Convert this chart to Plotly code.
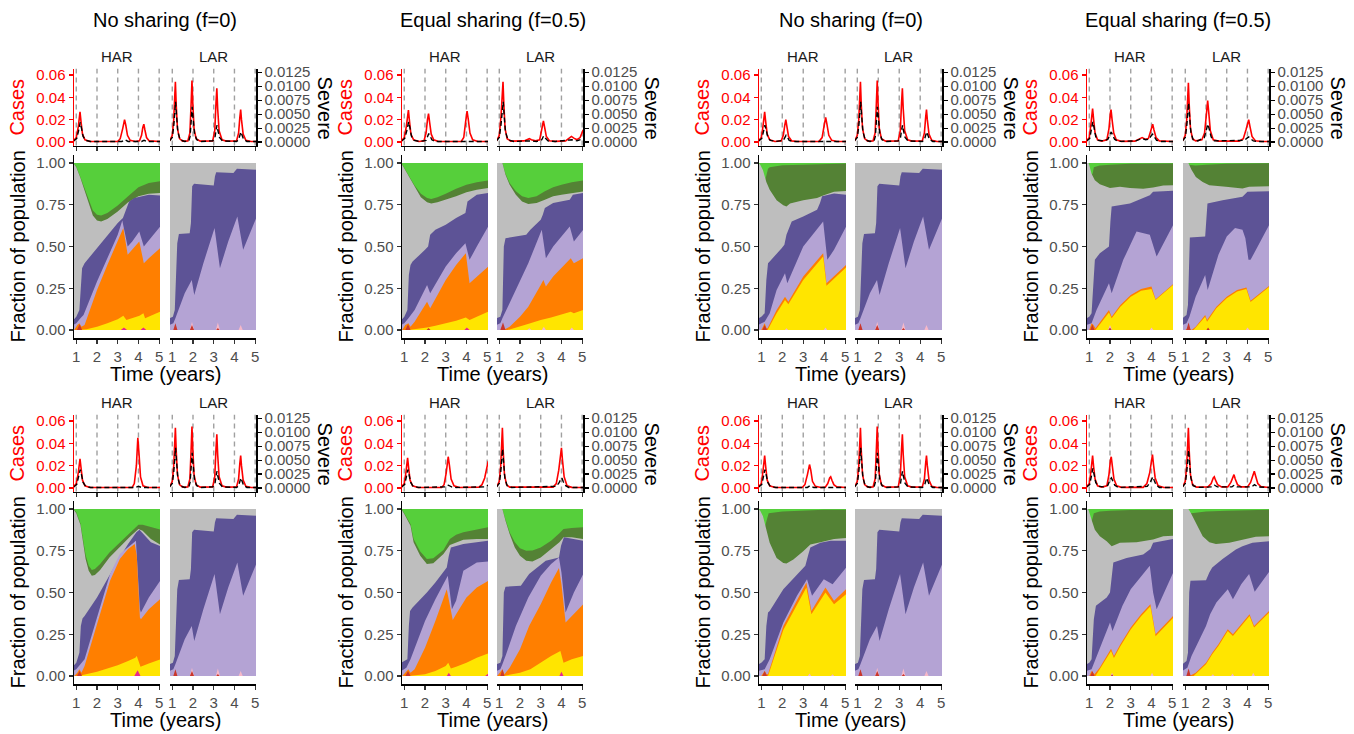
import plotly.graph_objects as go

W, H = 1354, 734
FONT = "Liberation Sans, Arial, sans-serif"

# ------------------------------------------------------------------ data
YEARS = [1, 2, 3, 4, 5]
CASE_TICKS = [0.0, 0.02, 0.04, 0.06]
SEVERE_TICKS = [0.0, 0.0025, 0.005, 0.0075, 0.01, 0.0125]
FRAC_TICKS = [0.0, 0.25, 0.5, 0.75, 1.0]
TITLES = ["No sharing (f=0)", "Equal sharing (f=0.5)", "No sharing (f=0)", "Equal sharing (f=0.5)"]
FACETS = ["HAR", "LAR"]

# cumulative top edge of each stacked compartment, (time, fraction)
TOP_FULL = [(0.85, 1.0), (5.05, 1.0)]

# ---- shared LAR panel, no sharing (identical in all four no-sharing groups)
NS_LAR_gray = [(0.85, 1.0), (5.05, 1.0)]
NS_LAR_dpurple = [(0.85, 0.07), (1.03, 0.08), (1.12, 0.12), (1.18, 0.30), (1.24, 0.52), (1.32, 0.575), (1.84, 0.58), (1.9, 0.64), (1.96, 0.86), (2.05, 0.875), (2.5, 0.87), (3.0, 0.865), (3.06, 0.92), (3.12, 0.945), (3.95, 0.94), (4.05, 0.955), (4.12, 0.966), (5.05, 0.96)]
NS_LAR_lpurple = [(0.85, 0.03), (1.05, 0.04), (1.15, 0.07), (1.3, 0.12), (1.6, 0.22), (1.94, 0.30), (2.06, 0.21), (2.5, 0.40), (3.04, 0.61), (3.3, 0.37), (3.7, 0.53), (4.14, 0.68), (4.42, 0.48), (5.05, 0.67)]
NS_LAR_pink = [(1.85, 0.0), (1.95, 0.05), (2.05, 0.0), (3.1, 0.0), (3.2, 0.045), (3.3, 0.0), (4.2, 0.0), (4.3, 0.03), (4.4, 0.0)]
NS_LAR_red = [(1.05, 0.0), (1.15, 0.04), (1.25, 0.0), (1.85, 0.0), (1.95, 0.03), (2.05, 0.0), (3.12, 0.0), (3.2, 0.012), (3.28, 0.0)]
NS_LAR_cases = [(0.87, 0.001), (1.0, 0.006), (1.07, 0.02), (1.12, 0.045), (1.15, 0.054), (1.19, 0.033), (1.25, 0.012), (1.35, 0.003), (1.5, 0.0008), (1.75, 0.001), (1.85, 0.008), (1.91, 0.035), (1.95, 0.055), (1.99, 0.035), (2.05, 0.012), (2.15, 0.003), (2.35, 0.0008), (2.95, 0.001), (3.05, 0.01), (3.11, 0.035), (3.15, 0.048), (3.19, 0.03), (3.26, 0.01), (3.4, 0.002), (3.6, 0.0008), (4.1, 0.001), (4.2, 0.008), (4.26, 0.022), (4.3, 0.029), (4.34, 0.02), (4.42, 0.007), (4.55, 0.0015), (4.8, 0.0005), (5.05, 0.0005)]
NS_LAR_severe = [(0.87, 0.0002), (1.0, 0.0008), (1.07, 0.0028), (1.12, 0.006), (1.16, 0.0072), (1.2, 0.005), (1.27, 0.0018), (1.38, 0.0004), (1.6, 0.0001), (1.8, 0.0002), (1.86, 0.001), (1.92, 0.0042), (1.96, 0.0063), (2.0, 0.0045), (2.07, 0.0016), (2.18, 0.0004), (2.4, 0.0001), (2.95, 0.0002), (3.06, 0.0008), (3.12, 0.0023), (3.16, 0.003), (3.2, 0.0021), (3.28, 0.0008), (3.42, 0.0002), (4.1, 0.0001), (4.2, 0.0004), (4.26, 0.0013), (4.31, 0.0018), (4.36, 0.0013), (4.44, 0.0005), (4.6, 0.0001), (5.05, 0.0001)]

# ---- A1: No sharing, row 1, HAR
A1_HAR_dgreen = [(0.85, 1.0), (1.0, 0.978), (1.2, 0.915), (1.4, 0.845), (1.6, 0.775), (1.8, 0.715), (2.0, 0.69), (2.2, 0.685), (2.5, 0.70), (3.0, 0.745), (3.5, 0.80), (4.0, 0.855), (4.5, 0.88), (5.05, 0.89)]
A1_HAR_gray = [(0.85, 1.0), (1.0, 0.975), (1.2, 0.91), (1.4, 0.83), (1.6, 0.75), (1.8, 0.685), (2.0, 0.655), (2.2, 0.65), (2.5, 0.665), (3.0, 0.71), (3.5, 0.765), (4.0, 0.80), (4.5, 0.815), (5.05, 0.82)]
A1_HAR_dpurple = [(0.85, 0.06), (1.0, 0.08), (1.15, 0.12), (1.22, 0.30), (1.28, 0.37), (1.4, 0.40), (2.0, 0.49), (2.5, 0.57), (3.0, 0.64), (3.25, 0.67), (3.4, 0.72), (3.55, 0.77), (3.8, 0.79), (4.1, 0.80), (4.5, 0.81), (5.05, 0.805)]
A1_HAR_lpurple = [(0.85, 0.03), (1.0, 0.04), (1.2, 0.07), (1.35, 0.09), (2.0, 0.29), (2.5, 0.43), (3.0, 0.57), (3.22, 0.655), (3.48, 0.50), (3.7, 0.53), (4.04, 0.59), (4.26, 0.50), (4.45, 0.53), (5.05, 0.62)]
A1_HAR_orange = [(0.9, 0.0), (1.05, 0.03), (1.15, 0.04), (1.25, 0.02), (1.4, 0.03), (2.0, 0.24), (2.5, 0.39), (3.0, 0.53), (3.27, 0.61), (3.48, 0.45), (3.7, 0.48), (4.04, 0.53), (4.26, 0.40), (4.5, 0.43), (5.05, 0.49)]
A1_HAR_yellow = [(1.1, 0.0), (1.5, 0.005), (2.0, 0.02), (2.5, 0.04), (3.0, 0.065), (3.27, 0.085), (3.42, 0.06), (3.7, 0.07), (4.05, 0.085), (4.24, 0.10), (4.32, 0.07), (5.05, 0.11)]
A1_HAR_magenta = [(3.15, 0.0), (3.3, 0.015), (3.45, 0.0), (4.1, 0.0), (4.24, 0.015), (4.38, 0.0)]
A1_HAR_red = [(1.03, 0.0), (1.16, 0.035), (1.28, 0.0)]
A1_HAR_cases = [(0.87, 0.001), (1.0, 0.004), (1.1, 0.014), (1.18, 0.027), (1.23, 0.018), (1.3, 0.007), (1.42, 0.002), (1.65, 0.0005), (3.0, 0.0005), (3.12, 0.003), (3.24, 0.012), (3.33, 0.02), (3.39, 0.015), (3.47, 0.006), (3.6, 0.0015), (3.85, 0.0005), (4.05, 0.001), (4.15, 0.006), (4.21, 0.013), (4.26, 0.016), (4.31, 0.011), (4.39, 0.004), (4.52, 0.001), (5.05, 0.0005)]
A1_HAR_severe = [(0.87, 0.0002), (1.02, 0.0006), (1.11, 0.002), (1.19, 0.0035), (1.25, 0.0025), (1.33, 0.001), (1.45, 0.0003), (1.7, 0.0001), (3.2, 0.0001), (3.35, 0.0004), (3.5, 0.0001), (4.15, 0.0001), (4.27, 0.0003), (4.4, 0.0001), (5.05, 0.0001)]

# ---- A2: No sharing, row 2, HAR
A2_HAR_dgreen = [(0.85, 1.0), (1.0, 0.98), (1.2, 0.915), (1.45, 0.725), (1.6, 0.66), (1.75, 0.635), (1.9, 0.64), (2.15, 0.67), (2.6, 0.74), (3.1, 0.80), (3.6, 0.86), (4.0, 0.905), (4.2, 0.905), (4.6, 0.89), (5.05, 0.876)]
A2_HAR_gray = [(0.85, 1.0), (1.0, 0.975), (1.2, 0.905), (1.45, 0.70), (1.6, 0.63), (1.75, 0.60), (1.9, 0.605), (2.15, 0.635), (2.6, 0.71), (3.1, 0.775), (3.6, 0.835), (4.0, 0.88), (4.2, 0.87), (4.6, 0.82), (5.05, 0.787)]
A2_HAR_dpurple = [(0.85, 0.06), (1.0, 0.08), (1.15, 0.14), (1.22, 0.30), (1.3, 0.345), (1.4, 0.36), (2.0, 0.47), (2.5, 0.58), (3.0, 0.69), (3.5, 0.79), (3.9, 0.86), (4.05, 0.875), (4.3, 0.84), (4.6, 0.80), (5.05, 0.778)]
A2_HAR_lpurple = [(0.85, 0.03), (1.0, 0.04), (1.2, 0.07), (1.4, 0.10), (2.0, 0.35), (2.63, 0.61), (3.1, 0.73), (3.75, 0.80), (3.88, 0.81), (4.07, 0.40), (4.12, 0.38), (4.5, 0.47), (5.05, 0.57)]
A2_HAR_orange = [(0.9, 0.0), (1.05, 0.02), (1.15, 0.04), (1.25, 0.02), (1.4, 0.06), (1.75, 0.20), (2.0, 0.31), (2.63, 0.57), (3.1, 0.70), (3.5, 0.76), (3.82, 0.79), (3.92, 0.72), (4.07, 0.35), (4.12, 0.34), (4.5, 0.40), (5.05, 0.46)]
A2_HAR_yellow = [(1.1, 0.0), (1.5, 0.01), (2.0, 0.025), (2.5, 0.045), (3.0, 0.065), (3.5, 0.09), (3.85, 0.11), (3.92, 0.12), (4.1, 0.055), (4.5, 0.075), (5.05, 0.10)]
A2_HAR_magenta = [(3.8, 0.0), (3.96, 0.035), (4.1, 0.0)]
A2_HAR_red = [(1.03, 0.0), (1.16, 0.03), (1.28, 0.0)]
A2_HAR_cases = [(0.87, 0.001), (1.0, 0.004), (1.1, 0.014), (1.18, 0.026), (1.23, 0.018), (1.3, 0.007), (1.42, 0.002), (1.65, 0.0005), (3.7, 0.0005), (3.8, 0.004), (3.9, 0.02), (3.97, 0.045), (4.03, 0.03), (4.1, 0.01), (4.22, 0.002), (4.45, 0.0005), (5.05, 0.0005)]
A2_HAR_severe = [(0.87, 0.0002), (1.02, 0.0006), (1.11, 0.002), (1.19, 0.0033), (1.25, 0.0024), (1.33, 0.001), (1.45, 0.0003), (1.7, 0.0001), (3.85, 0.0001), (4.0, 0.0003), (4.15, 0.0001), (5.05, 0.0001)]

# ---- B1: Equal sharing, row 1
B1_HAR_dgreen = [(0.85, 1.0), (1.2, 0.93), (1.5, 0.865), (1.8, 0.815), (2.1, 0.79), (2.3, 0.785), (2.6, 0.795), (3.0, 0.815), (3.5, 0.845), (4.0, 0.87), (4.5, 0.885), (5.05, 0.895)]
B1_HAR_gray = [(0.85, 1.0), (1.2, 0.925), (1.5, 0.855), (1.8, 0.795), (2.1, 0.765), (2.3, 0.757), (2.6, 0.765), (3.0, 0.78), (3.5, 0.80), (4.0, 0.825), (4.5, 0.84), (5.05, 0.85)]
B1_HAR_dpurple = [(0.85, 0.06), (1.0, 0.08), (1.15, 0.12), (1.22, 0.33), (1.3, 0.39), (1.4, 0.41), (2.0, 0.48), (2.15, 0.50), (2.25, 0.57), (2.5, 0.60), (3.0, 0.63), (3.5, 0.67), (3.95, 0.70), (4.05, 0.77), (4.5, 0.81), (5.05, 0.82)]
B1_HAR_lpurple = [(0.85, 0.03), (1.0, 0.04), (1.2, 0.07), (1.5, 0.12), (2.1, 0.27), (2.25, 0.22), (3.0, 0.38), (3.5, 0.46), (3.95, 0.52), (4.15, 0.42), (4.5, 0.50), (5.05, 0.62)]
B1_HAR_orange = [(0.9, 0.0), (1.05, 0.03), (1.2, 0.04), (1.3, 0.02), (1.5, 0.05), (2.1, 0.17), (2.25, 0.13), (3.0, 0.30), (3.5, 0.39), (3.97, 0.46), (4.15, 0.28), (4.5, 0.32), (5.05, 0.38)]
B1_HAR_yellow = [(1.2, 0.0), (1.6, 0.005), (2.1, 0.015), (2.5, 0.025), (3.0, 0.04), (3.5, 0.055), (3.97, 0.075), (4.15, 0.06), (4.5, 0.08), (5.05, 0.11)]
B1_HAR_magenta = [(3.9, 0.0), (4.02, 0.015), (4.15, 0.0)]
B1_HAR_red = [(1.05, 0.0), (1.18, 0.035), (1.3, 0.0), (2.08, 0.0), (2.17, 0.012), (2.27, 0.0)]
B1_HAR_cases = [(0.87, 0.001), (1.0, 0.004), (1.1, 0.014), (1.2, 0.0285), (1.25, 0.019), (1.32, 0.007), (1.45, 0.002), (1.7, 0.0005), (1.95, 0.001), (2.05, 0.008), (2.12, 0.02), (2.17, 0.0255), (2.22, 0.018), (2.3, 0.007), (2.42, 0.002), (2.65, 0.0005), (3.75, 0.0005), (3.87, 0.004), (3.96, 0.018), (4.03, 0.0276), (4.09, 0.02), (4.17, 0.008), (4.3, 0.002), (4.55, 0.0005), (5.05, 0.0005)]
B1_HAR_severe = [(0.87, 0.0002), (1.02, 0.0006), (1.12, 0.002), (1.21, 0.0036), (1.27, 0.0026), (1.35, 0.001), (1.48, 0.0003), (1.75, 0.0001), (2.05, 0.0003), (2.13, 0.0011), (2.18, 0.0015), (2.24, 0.0011), (2.33, 0.0004), (2.5, 0.0001), (3.9, 0.0001), (4.04, 0.00015), (4.2, 0.0001), (5.05, 0.0001)]
B1_LAR_dgreen = [(0.85, 1.0), (1.15, 1.0), (1.3, 0.935), (1.5, 0.88), (1.8, 0.83), (2.1, 0.80), (2.4, 0.79), (2.8, 0.80), (3.2, 0.83), (3.6, 0.855), (4.0, 0.87), (4.5, 0.885), (5.05, 0.895)]
B1_LAR_gray = [(0.85, 1.0), (1.15, 1.0), (1.3, 0.93), (1.5, 0.87), (1.8, 0.81), (2.1, 0.77), (2.4, 0.755), (2.8, 0.76), (3.2, 0.78), (3.6, 0.80), (4.0, 0.81), (4.5, 0.82), (5.05, 0.83)]
B1_LAR_dpurple = [(0.85, 0.07), (1.05, 0.08), (1.15, 0.12), (1.22, 0.50), (1.3, 0.55), (2.3, 0.57), (2.5, 0.60), (3.0, 0.66), (3.1, 0.69), (3.2, 0.73), (3.6, 0.76), (4.4, 0.78), (4.55, 0.81), (5.05, 0.82)]
B1_LAR_lpurple = [(0.85, 0.03), (1.05, 0.04), (1.15, 0.07), (1.3, 0.11), (1.8, 0.25), (2.4, 0.40), (3.05, 0.60), (3.25, 0.43), (3.6, 0.50), (4.4, 0.62), (4.6, 0.53), (5.05, 0.60)]
B1_LAR_orange = [(1.2, 0.0), (1.5, 0.02), (2.0, 0.08), (2.4, 0.14), (3.0, 0.27), (3.13, 0.30), (3.25, 0.26), (3.6, 0.32), (4.45, 0.43), (4.6, 0.40), (5.05, 0.43)]
B1_LAR_yellow = [(1.4, 0.0), (2.0, 0.02), (2.5, 0.04), (3.0, 0.06), (3.5, 0.075), (4.45, 0.11), (4.6, 0.10), (5.05, 0.12)]
B1_LAR_pink = [(2.35, 0.0), (2.45, 0.01), (2.55, 0.0), (3.05, 0.0), (3.15, 0.02), (3.25, 0.0), (4.4, 0.0), (4.5, 0.015), (4.6, 0.0)]
B1_LAR_red = [(1.05, 0.0), (1.18, 0.045), (1.3, 0.0)]
B1_LAR_cases = [(0.87, 0.001), (1.0, 0.006), (1.08, 0.022), (1.13, 0.045), (1.18, 0.054), (1.22, 0.034), (1.28, 0.012), (1.38, 0.003), (1.55, 0.0008), (2.2, 0.001), (2.35, 0.0025), (2.45, 0.003), (2.55, 0.002), (2.75, 0.001), (2.95, 0.002), (3.05, 0.01), (3.13, 0.019), (3.19, 0.013), (3.27, 0.005), (3.42, 0.0012), (3.7, 0.0006), (4.2, 0.001), (4.38, 0.0035), (4.48, 0.005), (4.6, 0.0035), (4.75, 0.002), (4.9, 0.004), (5.05, 0.011)]
B1_LAR_severe = [(0.87, 0.0002), (1.0, 0.0008), (1.08, 0.003), (1.14, 0.006), (1.19, 0.0072), (1.23, 0.005), (1.3, 0.0018), (1.42, 0.0004), (1.7, 0.0001), (2.45, 0.0002), (2.8, 0.0001), (3.05, 0.0004), (3.14, 0.0011), (3.22, 0.0007), (3.35, 0.0002), (3.7, 0.0001), (4.5, 0.0004), (4.75, 0.0002), (5.05, 0.0006)]

# ---- B2: Equal sharing, row 2
B2_HAR_dgreen = [(0.85, 1.0), (1.0, 0.975), (1.3, 0.91), (1.45, 0.82), (1.77, 0.745), (2.09, 0.70), (2.4, 0.705), (2.89, 0.755), (3.2, 0.82), (3.5, 0.845), (3.85, 0.86), (4.5, 0.876), (5.05, 0.89)]
B2_HAR_gray = [(0.85, 1.0), (1.0, 0.97), (1.3, 0.90), (1.45, 0.80), (1.77, 0.72), (2.09, 0.67), (2.4, 0.675), (2.89, 0.73), (3.2, 0.785), (3.5, 0.80), (3.85, 0.815), (4.5, 0.82), (5.05, 0.82)]
B2_HAR_dpurple = [(0.85, 0.08), (1.15, 0.10), (1.22, 0.30), (1.28, 0.39), (1.4, 0.41), (2.09, 0.50), (2.5, 0.56), (3.05, 0.65), (3.15, 0.72), (3.25, 0.77), (3.85, 0.79), (4.5, 0.80), (5.05, 0.81)]
B2_HAR_lpurple = [(0.85, 0.03), (1.1, 0.05), (1.3, 0.10), (2.0, 0.33), (2.5, 0.46), (3.0, 0.58), (3.1, 0.60), (3.3, 0.40), (3.5, 0.45), (3.85, 0.63), (4.5, 0.68), (5.05, 0.685)]
B2_HAR_orange = [(0.9, 0.0), (1.1, 0.03), (1.2, 0.04), (1.3, 0.02), (1.5, 0.04), (2.0, 0.17), (2.5, 0.33), (3.05, 0.52), (3.34, 0.335), (3.5, 0.37), (4.0, 0.47), (4.5, 0.53), (5.05, 0.57)]
B2_HAR_yellow = [(1.2, 0.0), (2.0, 0.01), (2.5, 0.03), (3.0, 0.06), (3.12, 0.08), (3.25, 0.045), (3.5, 0.055), (4.0, 0.08), (4.5, 0.11), (5.05, 0.135)]
B2_HAR_magenta = [(3.05, 0.0), (3.15, 0.02), (3.25, 0.0), (4.9, 0.0), (5.05, 0.015)]
B2_HAR_red = [(1.05, 0.0), (1.18, 0.03), (1.3, 0.0)]
B2_HAR_cases = [(0.87, 0.001), (1.0, 0.004), (1.08, 0.014), (1.16, 0.027), (1.21, 0.018), (1.28, 0.007), (1.4, 0.002), (1.65, 0.0005), (2.8, 0.0005), (2.92, 0.003), (3.02, 0.013), (3.12, 0.028), (3.18, 0.02), (3.26, 0.008), (3.4, 0.002), (3.65, 0.0005), (4.6, 0.0008), (4.75, 0.003), (4.88, 0.009), (5.05, 0.024)]
B2_HAR_severe = [(0.87, 0.0002), (1.02, 0.0006), (1.1, 0.002), (1.17, 0.0033), (1.23, 0.0024), (1.31, 0.001), (1.43, 0.0003), (1.7, 0.0001), (3.0, 0.0002), (3.13, 0.0005), (3.28, 0.0002), (3.5, 0.0001), (4.9, 0.0002), (5.05, 0.0005)]
B2_LAR_dgreen = [(0.85, 1.0), (1.15, 1.0), (1.3, 0.935), (1.5, 0.86), (1.75, 0.80), (2.0, 0.765), (2.3, 0.75), (2.6, 0.752), (3.0, 0.77), (3.5, 0.81), (3.9, 0.855), (4.1, 0.88), (4.5, 0.886), (5.05, 0.89)]
B2_LAR_gray = [(0.85, 1.0), (1.15, 1.0), (1.3, 0.93), (1.5, 0.85), (1.75, 0.77), (2.0, 0.72), (2.3, 0.69), (2.6, 0.685), (3.0, 0.71), (3.5, 0.76), (3.9, 0.80), (4.1, 0.83), (4.5, 0.83), (5.05, 0.82)]
B2_LAR_dpurple = [(0.85, 0.07), (1.05, 0.08), (1.15, 0.12), (1.22, 0.50), (1.3, 0.535), (2.04, 0.54), (2.44, 0.61), (3.24, 0.69), (3.88, 0.71), (3.98, 0.78), (4.12, 0.83), (4.6, 0.82), (5.05, 0.81)]
B2_LAR_lpurple = [(0.85, 0.03), (1.05, 0.04), (1.15, 0.07), (1.3, 0.12), (1.8, 0.30), (2.4, 0.47), (3.0, 0.60), (3.5, 0.67), (3.88, 0.71), (4.0, 0.62), (4.2, 0.38), (4.6, 0.50), (5.05, 0.61)]
B2_LAR_orange = [(0.9, 0.0), (1.1, 0.03), (1.15, 0.04), (1.25, 0.01), (1.5, 0.05), (2.0, 0.16), (2.44, 0.30), (3.0, 0.43), (3.5, 0.56), (3.88, 0.647), (4.0, 0.55), (4.2, 0.32), (4.6, 0.37), (5.05, 0.43)]
B2_LAR_yellow = [(1.2, 0.0), (2.0, 0.02), (2.5, 0.04), (3.0, 0.08), (3.5, 0.12), (3.95, 0.15), (4.1, 0.08), (4.5, 0.10), (5.05, 0.12)]
B2_LAR_magenta = [(3.9, 0.0), (4.0, 0.025), (4.1, 0.0)]
B2_LAR_red = [(1.05, 0.0), (1.15, 0.04), (1.25, 0.0)]
B2_LAR_cases = [(0.87, 0.001), (1.0, 0.006), (1.07, 0.02), (1.12, 0.045), (1.15, 0.054), (1.19, 0.033), (1.25, 0.012), (1.35, 0.003), (1.5, 0.0008), (3.6, 0.0008), (3.75, 0.004), (3.87, 0.016), (3.95, 0.033), (4.0, 0.036), (4.05, 0.025), (4.13, 0.01), (4.27, 0.002), (4.5, 0.0006), (5.05, 0.0005)]
B2_LAR_severe = [(0.87, 0.0002), (1.0, 0.0008), (1.07, 0.0028), (1.12, 0.006), (1.16, 0.007), (1.2, 0.005), (1.27, 0.0018), (1.38, 0.0004), (1.6, 0.0001), (3.75, 0.0003), (3.88, 0.0009), (3.97, 0.0016), (4.02, 0.0018), (4.08, 0.0012), (4.17, 0.0005), (4.35, 0.0001), (5.05, 0.0001)]

# ---- C1: No sharing, row 1, HAR
C1_HAR_dgreen = [(0.85, 0.9), (1.15, 0.88), (1.25, 0.93), (1.32, 0.966), (1.4, 0.975), (2.0, 0.986), (3.0, 0.99), (4.0, 0.993), (5.05, 0.996)]
C1_HAR_gray = [(0.85, 1.0), (0.95, 0.99), (1.08, 0.956), (1.24, 0.886), (1.4, 0.84), (1.73, 0.777), (2.05, 0.747), (2.2, 0.74), (2.37, 0.757), (3.0, 0.777), (3.66, 0.79), (3.98, 0.807), (4.47, 0.827), (5.05, 0.833)]
C1_HAR_dpurple = [(0.85, 0.07), (1.0, 0.08), (1.16, 0.10), (1.24, 0.30), (1.32, 0.40), (1.4, 0.41), (1.97, 0.49), (2.1, 0.51), (2.2, 0.57), (2.45, 0.65), (3.0, 0.68), (3.66, 0.72), (3.8, 0.76), (3.9, 0.80), (4.47, 0.817), (5.05, 0.81)]
C1_HAR_lpurple = [(0.85, 0.03), (1.16, 0.05), (1.4, 0.10), (1.73, 0.24), (2.13, 0.34), (2.24, 0.28), (3.0, 0.50), (3.66, 0.60), (3.95, 0.65), (4.15, 0.42), (4.47, 0.48), (5.05, 0.62)]
C1_HAR_orange = [(1.0, 0.0), (1.16, 0.04), (1.25, 0.01), (1.3, 0.01), (1.73, 0.12), (2.13, 0.20), (2.29, 0.17), (3.0, 0.32), (3.95, 0.46), (4.11, 0.28), (5.05, 0.39)]
C1_HAR_yellow = [(1.3, 0.0), (1.73, 0.10), (2.13, 0.18), (2.29, 0.155), (3.0, 0.30), (3.95, 0.44), (4.11, 0.265), (5.05, 0.375)]
C1_HAR_pink = [(2.12, 0.0), (2.2, 0.01), (2.28, 0.0), (3.98, 0.0), (4.06, 0.015), (4.15, 0.0)]
C1_HAR_red = [(1.05, 0.0), (1.16, 0.03), (1.27, 0.0)]
C1_HAR_cases = [(0.87, 0.001), (1.0, 0.004), (1.08, 0.014), (1.16, 0.027), (1.21, 0.018), (1.28, 0.007), (1.4, 0.002), (1.65, 0.0005), (1.95, 0.001), (2.05, 0.006), (2.12, 0.015), (2.17, 0.02), (2.22, 0.014), (2.3, 0.005), (2.45, 0.001), (2.7, 0.0005), (3.75, 0.0005), (3.9, 0.004), (4.0, 0.015), (4.07, 0.022), (4.13, 0.016), (4.22, 0.006), (4.36, 0.0015), (4.6, 0.0005), (5.05, 0.0005)]
C1_HAR_severe = [(0.87, 0.0002), (1.02, 0.0006), (1.1, 0.0018), (1.17, 0.003), (1.23, 0.0022), (1.31, 0.0009), (1.43, 0.0003), (1.7, 0.0001), (2.05, 0.0003), (2.13, 0.0009), (2.18, 0.0012), (2.24, 0.0009), (2.33, 0.0003), (2.5, 0.0001), (3.95, 0.0001), (4.08, 0.0002), (4.25, 0.0001), (5.05, 0.0001)]

# ---- C2: No sharing, row 2, HAR
C2_HAR_dgreen = [(0.85, 0.9), (1.15, 0.88), (1.25, 0.93), (1.35, 0.975), (2.0, 0.985), (3.0, 0.99), (4.0, 0.995), (5.05, 0.995)]
C2_HAR_gray = [(0.85, 1.0), (0.95, 0.99), (1.08, 0.956), (1.24, 0.876), (1.4, 0.797), (1.73, 0.707), (2.05, 0.677), (2.2, 0.673), (2.53, 0.697), (3.0, 0.747), (3.34, 0.787), (3.82, 0.80), (4.47, 0.82), (5.05, 0.827)]
C2_HAR_dpurple = [(0.85, 0.07), (1.0, 0.08), (1.16, 0.10), (1.24, 0.30), (1.32, 0.38), (1.4, 0.39), (2.05, 0.52), (2.7, 0.61), (3.1, 0.66), (3.25, 0.73), (3.34, 0.77), (3.82, 0.797), (4.3, 0.81), (5.05, 0.81)]
C2_HAR_lpurple = [(0.85, 0.03), (1.16, 0.04), (1.4, 0.10), (2.05, 0.32), (2.7, 0.48), (3.1, 0.57), (3.18, 0.58), (3.42, 0.48), (3.98, 0.58), (4.4, 0.55), (5.05, 0.65)]
C2_HAR_orange = [(1.0, 0.0), (1.16, 0.03), (1.25, 0.01), (1.32, 0.01), (2.05, 0.30), (3.15, 0.56), (3.39, 0.39), (4.06, 0.53), (4.47, 0.45), (5.05, 0.52)]
C2_HAR_yellow = [(1.32, 0.0), (2.05, 0.275), (3.15, 0.53), (3.39, 0.37), (4.06, 0.50), (4.47, 0.43), (5.05, 0.49)]
C2_HAR_pink = [(3.22, 0.0), (3.3, 0.015), (3.38, 0.0), (4.32, 0.0), (4.4, 0.01), (4.48, 0.0)]
C2_HAR_red = [(1.05, 0.0), (1.16, 0.03), (1.27, 0.0)]
C2_HAR_cases = [(0.87, 0.001), (1.0, 0.004), (1.08, 0.015), (1.16, 0.029), (1.21, 0.019), (1.28, 0.007), (1.4, 0.002), (1.65, 0.0005), (2.95, 0.0005), (3.08, 0.003), (3.2, 0.012), (3.3, 0.021), (3.36, 0.016), (3.44, 0.006), (3.58, 0.0015), (3.85, 0.0005), (4.05, 0.0008), (4.17, 0.004), (4.26, 0.009), (4.31, 0.01), (4.37, 0.007), (4.46, 0.003), (4.6, 0.001), (5.05, 0.0005)]
C2_HAR_severe = [(0.87, 0.0002), (1.02, 0.0006), (1.1, 0.002), (1.17, 0.0033), (1.23, 0.0024), (1.31, 0.001), (1.43, 0.0003), (1.7, 0.0001), (3.2, 0.0001), (3.32, 0.0004), (3.5, 0.0001), (4.3, 0.0002), (4.5, 0.0001), (5.05, 0.0001)]

# ---- D1: Equal sharing, row 1
D1_HAR_dgreen = [(0.85, 0.9), (1.1, 0.92), (1.17, 0.94), (1.22, 0.975), (1.5, 0.985), (2.0, 0.99), (3.0, 0.995), (5.05, 0.997)]
D1_HAR_gray = [(0.85, 1.0), (0.97, 1.0), (1.11, 0.936), (1.27, 0.896), (1.51, 0.872), (2.0, 0.85), (2.48, 0.857), (2.96, 0.85), (3.6, 0.846), (4.08, 0.853), (4.57, 0.865), (5.05, 0.867)]
D1_HAR_dpurple = [(0.85, 0.07), (1.0, 0.08), (1.11, 0.10), (1.2, 0.30), (1.27, 0.42), (1.51, 0.46), (1.84, 0.49), (1.95, 0.50), (2.02, 0.65), (2.08, 0.74), (2.96, 0.757), (3.92, 0.807), (4.08, 0.827), (5.05, 0.833)]
D1_HAR_lpurple = [(0.85, 0.03), (1.11, 0.04), (1.35, 0.12), (1.95, 0.28), (2.08, 0.22), (2.64, 0.42), (3.28, 0.59), (3.68, 0.58), (3.92, 0.57), (4.25, 0.44), (5.05, 0.63)]
D1_HAR_orange = [(1.0, 0.0), (1.11, 0.04), (1.2, 0.03), (1.3, 0.01), (1.95, 0.12), (2.08, 0.08), (2.5, 0.15), (3.0, 0.21), (3.5, 0.245), (4.0, 0.26), (4.2, 0.185), (5.05, 0.275)]
D1_HAR_yellow = [(1.3, 0.0), (1.95, 0.105), (2.08, 0.07), (2.5, 0.14), (3.0, 0.20), (3.5, 0.235), (4.0, 0.245), (4.2, 0.18), (5.05, 0.27)]
D1_HAR_pink = [(1.9, 0.0), (2.0, 0.03), (2.1, 0.0), (3.92, 0.0), (4.0, 0.015), (4.1, 0.0)]
D1_HAR_red = [(1.05, 0.0), (1.15, 0.035), (1.25, 0.0), (1.92, 0.0), (2.0, 0.015), (2.08, 0.0)]
D1_HAR_cases = [(0.87, 0.001), (1.0, 0.004), (1.08, 0.016), (1.16, 0.03), (1.21, 0.02), (1.28, 0.008), (1.4, 0.002), (1.6, 0.0008), (1.85, 0.002), (1.95, 0.012), (2.02, 0.026), (2.05, 0.029), (2.1, 0.02), (2.18, 0.008), (2.3, 0.002), (2.55, 0.0006), (3.2, 0.0008), (3.4, 0.003), (3.55, 0.004), (3.7, 0.0025), (3.85, 0.003), (3.95, 0.009), (4.02, 0.015), (4.06, 0.016), (4.12, 0.011), (4.22, 0.004), (4.38, 0.001), (4.7, 0.0005), (5.05, 0.0005)]
D1_HAR_severe = [(0.87, 0.0002), (1.02, 0.0006), (1.1, 0.0022), (1.17, 0.0036), (1.23, 0.0026), (1.31, 0.001), (1.43, 0.0003), (1.7, 0.0002), (1.9, 0.0005), (1.99, 0.0014), (2.06, 0.0018), (2.12, 0.0013), (2.22, 0.0005), (2.4, 0.0001), (3.25, 0.0002), (3.45, 0.0005), (3.57, 0.0006), (3.72, 0.0004), (3.88, 0.0005), (3.98, 0.0011), (4.06, 0.0014), (4.13, 0.001), (4.25, 0.0003), (4.45, 0.0001), (5.05, 0.0001)]
D1_LAR_dgreen = [(0.85, 0.95), (1.15, 0.99), (1.5, 0.985), (2.0, 0.99), (3.0, 0.995), (5.05, 0.998)]
D1_LAR_gray = [(0.85, 1.0), (1.15, 1.0), (1.3, 0.96), (1.51, 0.916), (1.84, 0.886), (2.16, 0.866), (2.96, 0.857), (3.76, 0.847), (4.08, 0.857), (5.05, 0.86)]
D1_LAR_dpurple = [(0.85, 0.07), (1.06, 0.09), (1.13, 0.15), (1.18, 0.45), (1.22, 0.554), (1.96, 0.56), (2.0, 0.65), (2.07, 0.757), (2.8, 0.777), (3.76, 0.797), (4.0, 0.827), (5.05, 0.83)]
D1_LAR_lpurple = [(0.85, 0.03), (1.06, 0.04), (1.2, 0.08), (1.5, 0.20), (1.96, 0.33), (2.08, 0.24), (2.6, 0.45), (3.0, 0.56), (3.4, 0.61), (3.76, 0.60), (3.9, 0.55), (4.05, 0.42), (4.15, 0.42), (5.05, 0.63)]
D1_LAR_orange = [(1.0, 0.0), (1.15, 0.01), (1.3, 0.0), (1.5, 0.02), (1.96, 0.09), (2.05, 0.06), (2.5, 0.14), (3.0, 0.20), (3.5, 0.24), (3.95, 0.255), (4.15, 0.175), (5.05, 0.265)]
D1_LAR_yellow = [(1.4, 0.0), (1.96, 0.08), (2.05, 0.05), (2.5, 0.13), (3.0, 0.19), (3.5, 0.23), (3.95, 0.245), (4.15, 0.168), (5.05, 0.258)]
D1_LAR_pink = [(3.92, 0.0), (4.0, 0.015), (4.1, 0.0)]
D1_LAR_red = [(1.05, 0.0), (1.16, 0.045), (1.26, 0.0), (2.02, 0.0), (2.1, 0.015), (2.18, 0.0)]
D1_LAR_cases = [(0.87, 0.001), (1.0, 0.006), (1.07, 0.02), (1.12, 0.044), (1.15, 0.053), (1.19, 0.033), (1.25, 0.012), (1.35, 0.003), (1.5, 0.001), (1.8, 0.002), (1.93, 0.008), (2.02, 0.025), (2.08, 0.037), (2.13, 0.027), (2.21, 0.01), (2.35, 0.002), (2.6, 0.0008), (3.6, 0.0008), (3.8, 0.003), (3.93, 0.011), (4.02, 0.019), (4.06, 0.02), (4.12, 0.014), (4.22, 0.005), (4.38, 0.0012), (4.7, 0.0005), (5.05, 0.0005)]
D1_LAR_severe = [(0.87, 0.0002), (1.0, 0.0008), (1.07, 0.0028), (1.12, 0.0058), (1.16, 0.007), (1.2, 0.005), (1.27, 0.0018), (1.38, 0.0004), (1.6, 0.0002), (1.92, 0.0008), (2.03, 0.0024), (2.09, 0.0032), (2.15, 0.0024), (2.25, 0.0009), (2.4, 0.0002), (3.85, 0.0003), (3.98, 0.0007), (4.06, 0.0009), (4.14, 0.0006), (4.28, 0.0002), (4.5, 0.0001), (5.05, 0.0001)]

# ---- D2: Equal sharing, row 2
D2_HAR_dgreen = [(0.85, 0.9), (1.1, 0.92), (1.17, 0.95), (1.22, 0.975), (1.5, 0.985), (2.0, 0.99), (3.0, 0.993), (5.05, 0.995)]
D2_HAR_gray = [(0.85, 1.0), (0.95, 1.0), (1.11, 0.936), (1.27, 0.876), (1.51, 0.837), (1.84, 0.807), (2.08, 0.777), (2.48, 0.797), (3.28, 0.80), (4.08, 0.817), (4.57, 0.837), (5.05, 0.84)]
D2_HAR_dpurple = [(0.85, 0.07), (1.0, 0.08), (1.11, 0.10), (1.22, 0.34), (1.32, 0.42), (1.84, 0.47), (2.0, 0.50), (2.1, 0.63), (2.16, 0.68), (2.8, 0.707), (3.6, 0.727), (3.95, 0.76), (4.08, 0.797), (5.05, 0.82)]
D2_HAR_lpurple = [(0.85, 0.03), (1.11, 0.04), (1.3, 0.10), (1.7, 0.22), (2.0, 0.32), (2.12, 0.27), (2.6, 0.42), (3.0, 0.52), (3.5, 0.60), (3.92, 0.66), (4.08, 0.50), (4.25, 0.40), (5.05, 0.62)]
D2_HAR_orange = [(1.0, 0.0), (1.11, 0.03), (1.25, 0.01), (1.5, 0.05), (2.05, 0.163), (2.19, 0.12), (2.5, 0.19), (3.0, 0.29), (3.5, 0.37), (3.95, 0.43), (4.2, 0.25), (5.05, 0.36)]
D2_HAR_yellow = [(1.3, 0.0), (1.5, 0.038), (2.05, 0.15), (2.19, 0.108), (2.5, 0.178), (3.0, 0.278), (3.5, 0.358), (3.95, 0.418), (4.2, 0.238), (5.05, 0.348)]
D2_HAR_pink = [(2.02, 0.0), (2.1, 0.02), (2.18, 0.0), (3.95, 0.0), (4.03, 0.02), (4.11, 0.0)]
D2_HAR_red = [(1.05, 0.0), (1.15, 0.03), (1.25, 0.0), (2.04, 0.0), (2.1, 0.01), (2.16, 0.0)]
D2_HAR_cases = [(0.87, 0.001), (1.0, 0.004), (1.08, 0.015), (1.16, 0.029), (1.21, 0.019), (1.28, 0.008), (1.4, 0.002), (1.6, 0.0008), (1.85, 0.002), (1.95, 0.012), (2.02, 0.025), (2.06, 0.028), (2.11, 0.02), (2.19, 0.008), (2.32, 0.002), (2.55, 0.0006), (3.6, 0.0006), (3.78, 0.004), (3.92, 0.014), (4.0, 0.026), (4.05, 0.03), (4.1, 0.021), (4.18, 0.009), (4.32, 0.002), (4.6, 0.0005), (5.05, 0.0005)]
D2_HAR_severe = [(0.87, 0.0002), (1.02, 0.0006), (1.1, 0.0021), (1.17, 0.0035), (1.23, 0.0025), (1.31, 0.001), (1.43, 0.0003), (1.7, 0.0002), (1.9, 0.0005), (1.99, 0.0014), (2.07, 0.0018), (2.13, 0.0013), (2.23, 0.0005), (2.4, 0.0001), (3.8, 0.0003), (3.95, 0.0011), (4.04, 0.0018), (4.07, 0.002), (4.13, 0.0014), (4.22, 0.0006), (4.38, 0.0001), (5.05, 0.0001)]
D2_LAR_dgreen = [(0.85, 0.95), (1.15, 0.98), (1.3, 0.975), (1.6, 0.98), (2.0, 0.985), (3.0, 0.99), (5.05, 0.995)]
D2_LAR_gray = [(0.85, 1.0), (1.15, 1.0), (1.27, 0.976), (1.51, 0.916), (1.84, 0.837), (2.16, 0.80), (2.48, 0.79), (3.12, 0.797), (3.76, 0.813), (4.4, 0.833), (5.05, 0.837)]
D2_LAR_dpurple = [(0.85, 0.07), (1.06, 0.09), (1.13, 0.14), (1.19, 0.50), (1.25, 0.57), (2.0, 0.574), (2.16, 0.62), (2.3, 0.65), (2.8, 0.70), (3.44, 0.757), (3.76, 0.777), (4.24, 0.797), (5.05, 0.807)]
D2_LAR_lpurple = [(0.85, 0.03), (1.1, 0.05), (1.3, 0.12), (1.7, 0.22), (2.0, 0.30), (2.2, 0.37), (2.5, 0.44), (3.05, 0.52), (3.3, 0.46), (3.7, 0.55), (4.08, 0.61), (4.35, 0.505), (5.05, 0.625)]
D2_LAR_orange = [(1.2, 0.0), (1.5, 0.02), (2.0, 0.08), (2.3, 0.14), (2.6, 0.19), (3.05, 0.28), (3.3, 0.25), (3.7, 0.31), (4.1, 0.37), (4.32, 0.30), (5.05, 0.39)]
D2_LAR_yellow = [(1.4, 0.0), (2.0, 0.07), (2.3, 0.13), (2.6, 0.18), (3.05, 0.27), (3.3, 0.24), (3.7, 0.30), (4.1, 0.36), (4.32, 0.29), (5.05, 0.38)]
D2_LAR_pink = [(2.25, 0.0), (2.33, 0.01), (2.41, 0.0), (3.2, 0.0), (3.28, 0.015), (3.36, 0.0), (4.2, 0.0), (4.28, 0.02), (4.36, 0.0)]
D2_LAR_red = [(1.05, 0.0), (1.16, 0.045), (1.26, 0.0)]
D2_LAR_cases = [(0.87, 0.001), (1.0, 0.006), (1.07, 0.02), (1.12, 0.045), (1.15, 0.054), (1.19, 0.033), (1.25, 0.012), (1.35, 0.003), (1.55, 0.0008), (2.1, 0.001), (2.25, 0.004), (2.35, 0.009), (2.4, 0.01), (2.46, 0.007), (2.56, 0.003), (2.75, 0.001), (3.05, 0.001), (3.2, 0.005), (3.3, 0.011), (3.35, 0.012), (3.41, 0.008), (3.52, 0.003), (3.7, 0.001), (4.0, 0.001), (4.15, 0.005), (4.27, 0.013), (4.33, 0.015), (4.39, 0.011), (4.5, 0.004), (4.65, 0.0012), (5.05, 0.0005)]
D2_LAR_severe = [(0.87, 0.0002), (1.0, 0.0008), (1.07, 0.0028), (1.12, 0.0058), (1.16, 0.0068), (1.2, 0.0048), (1.27, 0.0018), (1.38, 0.0004), (1.6, 0.0001), (2.3, 0.0002), (2.41, 0.0005), (2.55, 0.0002), (3.25, 0.0002), (3.36, 0.0005), (3.5, 0.0002), (4.2, 0.0002), (4.34, 0.0006), (4.5, 0.0002), (5.05, 0.0001)]

# ------------------------------------------------------------------ styles
COLORS = {
    "lgreen": "#56CF3B", "dgreen": "#548235", "gray": "#BEBEBE",
    "dpurple": "#5D5396", "lpurple": "#B4A3D4", "orange": "#FF7F00",
    "yellow": "#FFE500", "magenta": "#E8288C", "pink": "#F6B8C8", "red": "#C9372C",
}
PAINT_ORDER = ["lgreen", "dgreen", "gray", "dpurple", "lpurple", "orange", "yellow", "magenta", "pink", "red"]


def panel(prefix, names):
    g = globals()
    d = {}
    for n in names:
        key = f"{prefix}_{n}"
        if key in g:
            d[n] = g[key]
    return d


ALL = PAINT_ORDER
NS_LAR = panel("NS_LAR", ALL)
A1_HAR = dict(panel("A1_HAR", ALL), lgreen=TOP_FULL)
A2_HAR = dict(panel("A2_HAR", ALL), lgreen=TOP_FULL)
B1_HAR = dict(panel("B1_HAR", ALL), lgreen=TOP_FULL)
B1_LAR = dict(panel("B1_LAR", ALL), lgreen=TOP_FULL)
B2_HAR = dict(panel("B2_HAR", ALL), lgreen=TOP_FULL)
B2_LAR = dict(panel("B2_LAR", ALL), lgreen=TOP_FULL)
C1_HAR = dict(panel("C1_HAR", ALL), lgreen=TOP_FULL)
C2_HAR = dict(panel("C2_HAR", ALL), lgreen=TOP_FULL)
D1_HAR = dict(panel("D1_HAR", ALL), lgreen=TOP_FULL)
D1_LAR = dict(panel("D1_LAR", ALL), lgreen=TOP_FULL)
D2_HAR = dict(panel("D2_HAR", ALL), lgreen=TOP_FULL)
D2_LAR = dict(panel("D2_LAR", ALL), lgreen=TOP_FULL)

GROUPS = [
    # (column, row, HAR areas, LAR areas, HAR lines, LAR lines)
    (0, 0, A1_HAR, NS_LAR, (A1_HAR_cases, A1_HAR_severe), (NS_LAR_cases, NS_LAR_severe)),
    (1, 0, B1_HAR, B1_LAR, (B1_HAR_cases, B1_HAR_severe), (B1_LAR_cases, B1_LAR_severe)),
    (2, 0, C1_HAR, NS_LAR, (C1_HAR_cases, C1_HAR_severe), (NS_LAR_cases, NS_LAR_severe)),
    (3, 0, D1_HAR, D1_LAR, (D1_HAR_cases, D1_HAR_severe), (D1_LAR_cases, D1_LAR_severe)),
    (0, 1, A2_HAR, NS_LAR, (A2_HAR_cases, A2_HAR_severe), (NS_LAR_cases, NS_LAR_severe)),
    (1, 1, B2_HAR, B2_LAR, (B2_HAR_cases, B2_HAR_severe), (B2_LAR_cases, B2_LAR_severe)),
    (2, 1, C2_HAR, NS_LAR, (C2_HAR_cases, C2_HAR_severe), (NS_LAR_cases, NS_LAR_severe)),
    (3, 1, D2_HAR, D2_LAR, (D2_HAR_cases, D2_HAR_severe), (D2_LAR_cases, D2_LAR_severe)),
]

# ------------------------------------------------------------------ layout geometry (px)
COLS = [(74, 160, 170, 256), (402, 488, 497, 583), (759, 846, 855, 942), (1087, 1173, 1183, 1269)]
ROW_DY = 346
TOP_Y = (68.7, 145.5)
BOT_Y = (154.6, 338.4)
XR = [0.89, 5.04]
CASE_R = [-0.003125, 0.065625]
SEV_R = [-0.000625, 0.013125]
FRAC_R = [-0.05, 1.05]
TICK_GRAY = "#4D4D4D"

fig = go.Figure()
lay = dict(width=W, height=H, margin=dict(l=0, r=0, t=0, b=0, pad=0), autosize=False,
           paper_bgcolor="white", plot_bgcolor="white", showlegend=False,
           font=dict(family=FONT, size=15, color=TICK_GRAY))
shapes, annos = [], []
cnt = {"x": 0, "y": 0}
BASE = dict(showgrid=False, zeroline=False, fixedrange=True, automargin=False)


def xd(a, b):
    return [a / W, b / W]


def yd(a, b):
    return [1 - b / H, 1 - a / H]


def new_x(dom, anchor, **kw):
    cnt["x"] += 1
    n = cnt["x"]
    lay["xaxis" if n == 1 else f"xaxis{n}"] = dict(BASE, domain=dom, anchor=anchor, **kw)
    return "x" if n == 1 else f"x{n}"


def new_y(dom, anchor, **kw):
    cnt["y"] += 1
    n = cnt["y"]
    lay["yaxis" if n == 1 else f"yaxis{n}"] = dict(BASE, domain=dom, anchor=anchor, **kw)
    return "y" if n == 1 else f"y{n}"


def next_ids():
    nx, ny = cnt["x"] + 1, cnt["y"] + 1
    return ("x" if nx == 1 else f"x{nx}"), ("y" if ny == 1 else f"y{ny}")


def pa(xp, yp):
    return xp / W, 1 - yp / H


XAX = dict(range=XR, tickmode="array", tickvals=YEARS, ticks="outside", ticklen=4, tickwidth=1.1,
           tickcolor="#333333", showline=True, linecolor="black", linewidth=1.5)

for col, row, har, lar, har_lines, lar_lines in GROUPS:
    hx0, hx1, lx0, lx1 = COLS[col]
    dy = row * ROW_DY
    ty = (TOP_Y[0] + dy, TOP_Y[1] + dy)
    by = (BOT_Y[0] + dy, BOT_Y[1] + dy)
    for fi, (x0, x1, areas, lines) in enumerate([(hx0, hx1, har, har_lines), (lx0, lx1, lar, lar_lines)]):
        is_har = fi == 0
        # ---------- bottom stacked panel
        xid, yid = next_ids()
        new_x(xd(x0, x1), yid, showticklabels=True, tickfont=dict(size=15, color=TICK_GRAY), **XAX)
        if is_har:
            new_y(yd(*by), xid, range=FRAC_R, tickmode="array", tickvals=FRAC_TICKS, tickformat=".2f",
                  ticks="outside", ticklen=4, tickwidth=1.1, tickcolor="#333333", showline=True,
                  linecolor="black", linewidth=1.5, tickfont=dict(size=15, color=TICK_GRAY))
        else:
            new_y(yd(*by), xid, range=FRAC_R, showticklabels=False, showline=False, ticks="")
        for name in PAINT_ORDER:
            if name in areas:
                pts = areas[name]
                fig.add_trace(go.Scatter(
                    x=[p[0] for p in pts], y=[p[1] for p in pts], xaxis=xid, yaxis=yid,
                    mode="lines", line=dict(width=0, color=COLORS[name]), fill="tozeroy",
                    fillcolor=COLORS[name], hoverinfo="skip"))
        # ---------- top cases / severe panel
        xid, yid = next_ids()
        new_x(xd(x0, x1), yid, showticklabels=False, **XAX)
        if is_har:
            new_y(yd(*ty), xid, range=CASE_R, tickmode="array", tickvals=CASE_TICKS, tickformat=".2f",
                  ticks="outside", ticklen=4, tickwidth=1.1, tickcolor="red", showline=True,
                  linecolor="red", linewidth=1.5, tickfont=dict(size=15, color="red"))
        else:
            new_y(yd(*ty), xid, range=CASE_R, showticklabels=False, showline=False, ticks="")
        _, y2id = next_ids()
        if is_har:
            new_y(yd(*ty), xid, overlaying=yid, side="right", range=SEV_R, showticklabels=False,
                  showline=False, ticks="")
        else:
            new_y(yd(*ty), xid, overlaying=yid, side="right", range=SEV_R, tickmode="array",
                  tickvals=SEVERE_TICKS, tickformat=".4f", ticks="outside", ticklen=4, tickwidth=1.1,
                  tickcolor="black", showline=True, linecolor="black", linewidth=1.5,
                  tickfont=dict(size=15, color=TICK_GRAY))
        for yr in YEARS:
            shapes.append(dict(type="line", xref=xid, yref=f"{yid} domain", x0=yr, x1=yr, y0=0, y1=1,
                               line=dict(color="#A0A0A0", width=1.4, dash="5px,4px"), layer="below"))
        cases, severe = lines
        fig.add_trace(go.Scatter(x=[p[0] for p in cases], y=[p[1] for p in cases], xaxis=xid, yaxis=yid,
                                 mode="lines", line=dict(color="red", width=1.6), hoverinfo="skip"))
        fig.add_trace(go.Scatter(x=[p[0] for p in severe], y=[p[1] for p in severe], xaxis=xid, yaxis=y2id,
                                 mode="lines", line=dict(color="black", width=1.4, dash="5px,3px"),
                                 hoverinfo="skip"))
        # strip label
        sx, sy = pa((x0 + x1) / 2, 57 + dy)
        annos.append(dict(text=FACETS[fi], x=sx, y=sy, xref="paper", yref="paper", showarrow=False,
                          xanchor="center", yanchor="middle", font=dict(size=15, color="#1A1A1A")))

    gx = (hx0 + lx1) / 2
    if row == 0:
        ax_, ay_ = pa(gx, 20)
        annos.append(dict(text=TITLES[col], x=ax_, y=ay_, xref="paper", yref="paper", showarrow=False,
                          xanchor="center", yanchor="middle", font=dict(size=20, color="black")))
    for text, xp, yp, ang, colr in [
        ("Cases", hx0 - 57, (ty[0] + ty[1]) / 2 + 0.5, -90, "red"),
        ("Severe", lx1 + 69, (ty[0] + ty[1]) / 2 + 0.5, 90, "black"),
        ("Fraction of population", hx0 - 57, (by[0] + by[1]) / 2, -90, "black"),
        ("Time (years)", gx, 374 + dy, 0, "black"),
    ]:
        ax_, ay_ = pa(xp, yp)
        annos.append(dict(text=text, x=ax_, y=ay_, xref="paper", yref="paper", showarrow=False,
                          xanchor="center", yanchor="middle", textangle=ang,
                          font=dict(size=20, color=colr)))

lay["shapes"] = shapes
lay["annotations"] = annos
fig.update_layout(**lay)
fig.write_html("out.html", config={"displayModeBar": False, "staticPlot": True},
               post_script="document.body.style.margin='0px';document.body.style.overflow='hidden';")
